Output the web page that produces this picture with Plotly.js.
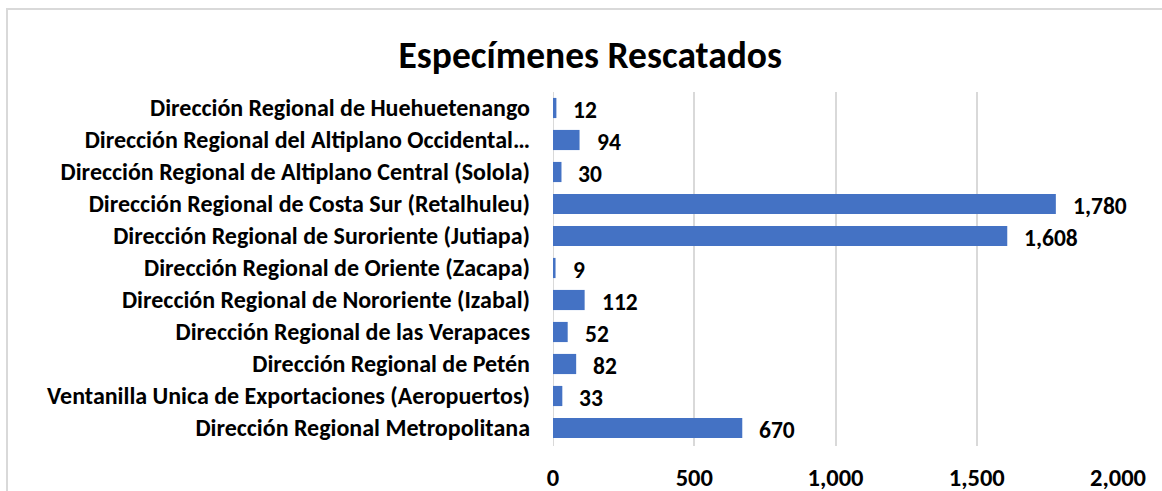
<!DOCTYPE html>
<html>
<head>
<meta charset="utf-8">
<script src="https://cdn.plot.ly/plotly-3.0.1.min.js"></script>
<style>
  html, body { margin: 0; padding: 0; background: #ffffff; }
  #wrap { position: relative; width: 1162px; height: 491px; overflow: hidden; }
  #frame { position: absolute; left: 6px; top: 8px; width: 1170px; height: 500px;
           border-left: 2px solid #d9d9d9; border-top: 2px solid #d9d9d9; pointer-events: none; }
  #chart { position: absolute; left: 0; top: 0; width: 1162px; height: 491px; }
</style>
</head>
<body>
<div id="wrap">
  <div id="chart"></div>
  <div id="frame"></div>
</div>
<script>
// Categories listed from bottom to top (Plotly draws first category at the bottom)
const categories = [
  "Dirección Regional Metropolitana",
  "Ventanilla Unica de Exportaciones (Aeropuertos)",
  "Dirección Regional de Petén",
  "Dirección Regional de las Verapaces",
  "Dirección Regional de Nororiente (Izabal)",
  "Dirección Regional de Oriente (Zacapa)",
  "Dirección Regional de Suroriente (Jutiapa)",
  "Dirección Regional de Costa Sur (Retalhuleu)",
  "Dirección Regional de Altiplano Central (Solola)",
  "Dirección Regional del Altiplano Occidental…",
  "Dirección Regional de Huehuetenango"
];
const values = [670, 33, 82, 52, 112, 9, 1608, 1780, 30, 94, 12];
const tickValues = [0, 500, 1000, 1500, 2000];
const tickLabels = ["0", "500", "1,000", "1,500", "2,000"];
const chartTitle = "Especímenes Rescatados";

const FONT = "Carlito, Calibri, 'Liberation Sans Narrow', 'Open Sans', sans-serif";

const fmt = v => v.toLocaleString("en-US");

const trace = {
  type: "bar",
  orientation: "h",
  y: categories,
  x: values,
  marker: { color: "#4472C4", line: { width: 0 } },
  hoverinfo: "none",
  cliponaxis: false
};

const annotations = categories.map((c, i) => ({
  x: values[i],
  y: c,
  xref: "x",
  yref: "y",
  text: "<b>" + fmt(values[i]) + "</b>",
  showarrow: false,
  xanchor: "left",
  yanchor: "middle",
  xshift: 15,
  yshift: -2,
  font: { family: FONT, size: 23.5, color: "#000000" }
}));

const layout = {
  width: 1162,
  height: 491,
  margin: { l: 553, r: 44, t: 92, b: 45 },
  paper_bgcolor: "rgba(0,0,0,0)",
  plot_bgcolor: "rgba(0,0,0,0)",
  showlegend: false,
  bargap: 0.37,
  title: {
    text: "<b>" + chartTitle + "</b>",
    x: 0.508,
    xref: "container",
    xanchor: "center",
    y: 0.888,
    yref: "container",
    yanchor: "middle",
    font: { family: FONT, size: 37.5, color: "#000000" }
  },
  xaxis: {
    range: [0, 2000],
    tickvals: tickValues,
    ticktext: tickLabels.map(t => "<b>" + t + "</b>"),
    showgrid: true,
    gridcolor: "#d9d9d9",
    gridwidth: 2,
    zeroline: false,
    showline: false,
    ticks: "",
    ticklabelstandoff: 14,
    tickfont: { family: FONT, size: 24.5, color: "#000000" },
    fixedrange: true
  },
  yaxis: {
    type: "category",
    categoryorder: "array",
    categoryarray: categories,
    ticktext: categories.map(c => "<b>" + c + "</b>"),
    tickvals: categories,
    showgrid: false,
    zeroline: false,
    showline: false,
    ticks: "",
    ticklabelstandoff: 22,
    tickfont: { family: FONT, size: 24, color: "#000000" },
    fixedrange: true
  },
  shapes: [{
    type: "line",
    xref: "x", yref: "paper",
    x0: 0, x1: 0, y0: 0, y1: 1,
    line: { color: "#d9d9d9", width: 2 },
    layer: "below"
  }],
  annotations: annotations
};

Plotly.newPlot("chart", [trace], layout, { displayModeBar: false, staticPlot: true });
</script>
</body>
</html>
